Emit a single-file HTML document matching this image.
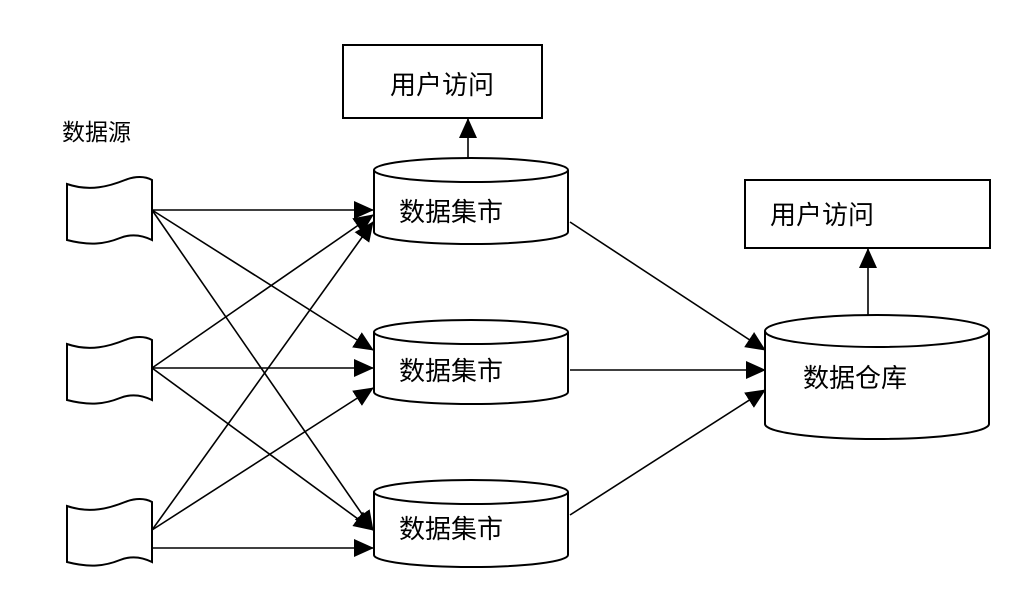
<!DOCTYPE html>
<html><head><meta charset="utf-8"><style>
html,body{margin:0;padding:0;background:#fff;width:1014px;height:612px;overflow:hidden}
svg text{font-family:"Liberation Sans","Noto Sans CJK SC","WenQuanYi Zen Hei",sans-serif;fill:#000}
</style></head><body>
<svg width="1014" height="612" viewBox="0 0 1014 612" xmlns="http://www.w3.org/2000/svg">
<defs>
<marker id="a" markerWidth="10" markerHeight="10" refX="9" refY="5" orient="auto" markerUnits="userSpaceOnUse" viewBox="0 0 10 10">
<path d="M0,0 L10,5 L0,10 z" fill="#000"/>
</marker>
<marker id="b" markerWidth="20" markerHeight="20" refX="19" refY="10" orient="auto" markerUnits="userSpaceOnUse" viewBox="0 0 20 20">
<path d="M0,1 L20,10 L0,19 z" fill="#000"/>
</marker>
</defs>
<g fill="none" stroke="#000" stroke-width="2">
<!-- top box -->
<rect x="343" y="45" width="199" height="73" fill="#fff"/>
<rect x="745" y="180" width="245" height="68" fill="#fff"/>
<!-- flags -->
<path d="M67,184 C90,192 110,186 125,180 C135,176 145,176 152,180 L152,240 C140,234 130,234 120,238 C105,244 90,246 67,240 Z"/>
<path d="M67,344 C90,352 110,346 125,340 C135,336 145,336 152,340 L152,400 C140,394 130,394 120,398 C105,404 90,406 67,400 Z"/>
<path d="M67,506 C90,514 110,508 125,502 C135,498 145,498 152,502 L152,562 C140,556 130,556 120,560 C105,566 90,568 67,562 Z"/>
<!-- marts -->
<path d="M374,170 L374,232 A97,12 0 0 0 568,232 L568,170" fill="#fff"/>
<ellipse cx="471" cy="170" rx="97" ry="12" fill="#fff"/>
<path d="M374,332 L374,392 A97,12 0 0 0 568,392 L568,332" fill="#fff"/>
<ellipse cx="471" cy="332" rx="97" ry="12" fill="#fff"/>
<path d="M374,492 L374,555 A97,12 0 0 0 568,555 L568,492" fill="#fff"/>
<ellipse cx="471" cy="492" rx="97" ry="12" fill="#fff"/>
<!-- warehouse -->
<path d="M765,331 L765,424 A112,15 0 0 0 989,424 L989,331" fill="#fff"/>
<ellipse cx="877" cy="331" rx="112" ry="16" fill="#fff"/>
</g>
<g stroke="#000" stroke-width="1.6" fill="none">
<line x1="152" y1="210" x2="373" y2="210" marker-end="url(#b)"/>
<line x1="152" y1="210" x2="373" y2="350" marker-end="url(#b)"/>
<line x1="152" y1="210" x2="373" y2="530" marker-end="url(#b)"/>
<line x1="152" y1="368" x2="373" y2="215" marker-end="url(#b)"/>
<line x1="152" y1="368" x2="373" y2="368" marker-end="url(#b)"/>
<line x1="152" y1="368" x2="373" y2="530" marker-end="url(#b)"/>
<line x1="152" y1="530" x2="373" y2="222" marker-end="url(#b)"/>
<line x1="152" y1="530" x2="373" y2="388" marker-end="url(#b)"/>
<line x1="152" y1="548" x2="373" y2="548" marker-end="url(#b)"/>
<line x1="570" y1="222" x2="765" y2="350" marker-end="url(#b)"/>
<line x1="570" y1="370" x2="765" y2="370" marker-end="url(#b)"/>
<line x1="570" y1="515" x2="765" y2="390" marker-end="url(#b)"/>
<line x1="468" y1="158" x2="468" y2="119" marker-end="url(#b)"/>
<line x1="868" y1="315" x2="868" y2="249" marker-end="url(#b)"/>
</g>
<text x="62" y="140" font-size="23">数据源</text>
<text x="390" y="94" font-size="26">用户访问</text>
<text x="770" y="224" font-size="26">用户访问</text>
<text x="399" y="221" font-size="26">数据集市</text>
<text x="399" y="380" font-size="26">数据集市</text>
<text x="399" y="538" font-size="26">数据集市</text>
<text x="803" y="387" font-size="26">数据仓库</text>
</svg>
</body></html>
